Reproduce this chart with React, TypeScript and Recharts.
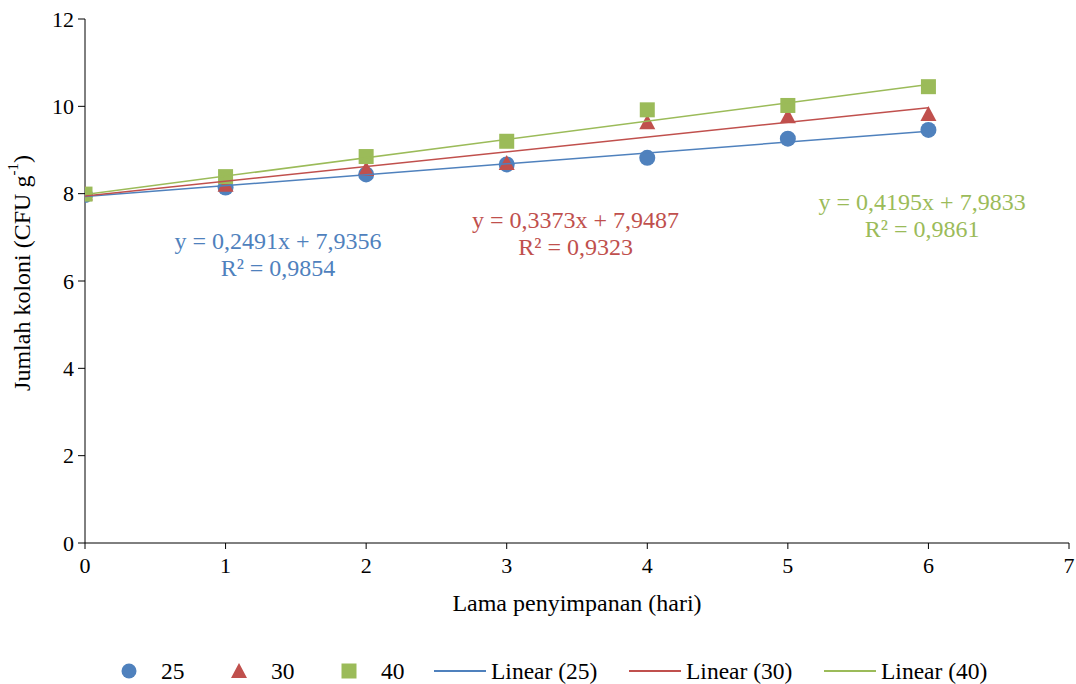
import React from "react";
import {
  ScatterChart,
  Scatter,
  XAxis,
  YAxis,
  ReferenceDot,
} from "recharts";

// storage days
const days = [0, 1, 2, 3, 4, 5, 6];

// colony counts per temperature
const s25 = [7.97, 8.14, 8.44, 8.67, 8.82, 9.26, 9.46];
const s30 = [7.98, 8.18, 8.54, 8.68, 9.61, 9.75, 9.80];
const s40 = [7.99, 8.39, 8.85, 9.20, 9.92, 10.02, 10.45];

// trendline end values at day 0 and day 6
const trendDays = [0, 6];
const t25 = [7.9356, 9.43];
const t30 = [7.9487, 9.97];
const t40 = [7.9833, 10.50];

const yTicks = [0, 2, 4, 6, 8, 10, 12];
const xTicks = [0, 1, 2, 3, 4, 5, 6, 7];

const C25 = "#4F81BD";
const C30 = "#C0504D";
const C40 = "#9BBB59";
const FONT = "Tinos, serif";

const toPts = (xs: number[], ys: number[]) => xs.map((x, i) => ({ x, y: ys[i] }));

const Circle = (p: any) => <circle cx={p.cx} cy={p.cy} r={8} fill={C25} />;
const Tri = (p: any) => (
  <polygon
    points={`${p.cx},${p.cy - 9} ${p.cx + 8},${p.cy + 6} ${p.cx - 8},${p.cy + 6}`}
    fill={C30}
  />
);
const Sq = (p: any) => <rect x={p.cx - 7.5} y={p.cy - 7.5} width={15} height={15} fill={C40} />;
const NoDot = () => <g />;

const YLabel = (props: any) => {
  const vb = props.viewBox;
  const cy = vb.y + vb.height / 2 - 8;
  return (
    <text
      x={22}
      y={cy}
      transform={`rotate(-90, 22, ${cy})`}
      textAnchor="middle"
      dominantBaseline="central"
      style={{ fontFamily: FONT, fontSize: 24 }}
      fill="#000"
    >
      Jumlah koloni (CFU g
      <tspan dy={-9} style={{ fontSize: 15 }}>-1</tspan>
      <tspan dy={9}>)</tspan>
    </text>
  );
};

const eqLabels = [
  { x: 1.373, y: 6.92, text: "y = 0,2491x + 7,9356", color: C25 },
  { x: 1.373, y: 6.3, text: "R² = 0,9854", color: C25 },
  { x: 3.49, y: 7.4, text: "y = 0,3373x + 7,9487", color: C30 },
  { x: 3.49, y: 6.8, text: "R² = 0,9323", color: C30 },
  { x: 5.955, y: 7.81, text: "y = 0,4195x + 7,9833", color: C40 },
  { x: 5.955, y: 7.21, text: "R² = 0,9861", color: C40 },
];

const legendItems = [
  { kind: "circle", label: "25", color: C25 },
  { kind: "tri", label: "30", color: C30 },
  { kind: "square", label: "40", color: C40 },
  { kind: "line", label: "Linear (25)", color: C25 },
  { kind: "line", label: "Linear (30)", color: C30 },
  { kind: "line", label: "Linear (40)", color: C40 },
];
// left edge of each legend entry
const legendLeft = [119, 229, 339, 434, 629, 824];

const LegendIcon = ({ kind, color }: { kind: string; color: string }) => {
  if (kind === "line")
    return (
      <svg width={52} height={20}>
        <line x1={0} y1={10} x2={52} y2={10} stroke={color} strokeWidth={2} />
      </svg>
    );
  return (
    <svg width={20} height={20}>
      {kind === "circle" && <circle cx={10} cy={10} r={7.5} fill={color} />}
      {kind === "tri" && <polygon points="10,2 18,17 2,17" fill={color} />}
      {kind === "square" && <rect x={2.5} y={2.5} width={15} height={15} fill={color} />}
    </svg>
  );
};

const tickStyle = { fill: "#000", fontFamily: FONT, fontSize: 22 };

export default function App() {
  return (
    <div style={{ position: "absolute", left: 0, top: 0, width: 1076, height: 684, background: "#fff", fontFamily: FONT }}>
      <ScatterChart
        width={1076}
        height={684}
        margin={{ top: 19, right: 7, bottom: 61, left: 0 }}
        style={{ fontFamily: FONT }}
      >
        <XAxis
          type="number"
          dataKey="x"
          domain={[0, 7]}
          ticks={xTicks}
          allowDataOverflow
          stroke="#000"
          tickSize={6}
          tickMargin={8}
          height={80}
          tick={tickStyle}
          label={{
            value: "Lama penyimpanan (hari)",
            position: "insideBottom",
            offset: 12,
            fill: "#000",
            fontFamily: FONT,
            fontSize: 24,
          }}
        />
        <YAxis
          type="number"
          dataKey="y"
          domain={[0, 12]}
          ticks={yTicks}
          allowDataOverflow
          stroke="#000"
          tickSize={7}
          tickMargin={4}
          width={85}
          tick={tickStyle}
          label={<YLabel />}
        />
        <Scatter data={toPts(days, s25)} shape={Circle} isAnimationActive={false} />
        <Scatter data={toPts(days, s30)} shape={Tri} isAnimationActive={false} />
        <Scatter data={toPts(days, s40)} shape={Sq} isAnimationActive={false} />
        <Scatter data={toPts(trendDays, t25)} shape={NoDot} line={{ stroke: C25, strokeWidth: 1.5 }} isAnimationActive={false} />
        <Scatter data={toPts(trendDays, t30)} shape={NoDot} line={{ stroke: C30, strokeWidth: 1.5 }} isAnimationActive={false} />
        <Scatter data={toPts(trendDays, t40)} shape={NoDot} line={{ stroke: C40, strokeWidth: 1.5 }} isAnimationActive={false} />
        {eqLabels.map((l, i) => (
          <ReferenceDot
            key={i}
            x={l.x}
            y={l.y}
            r={0}
            stroke="none"
            fill="none"
            label={{ value: l.text, position: "center", fill: l.color, fontFamily: FONT, fontSize: 24 }}
          />
        ))}
      </ScatterChart>
      {legendItems.map((it, i) => (
        <div
          key={i}
          style={{
            position: "absolute",
            left: legendLeft[i],
            top: 657,
            height: 28,
            display: "flex",
            alignItems: "center",
            fontSize: 23.5,
            color: "#000",
            whiteSpace: "nowrap",
          }}
        >
          <LegendIcon kind={it.kind} color={it.color} />
          <span style={{ marginLeft: it.kind === "line" ? 5 : 22 }}>{it.label}</span>
        </div>
      ))}
    </div>
  );
}
